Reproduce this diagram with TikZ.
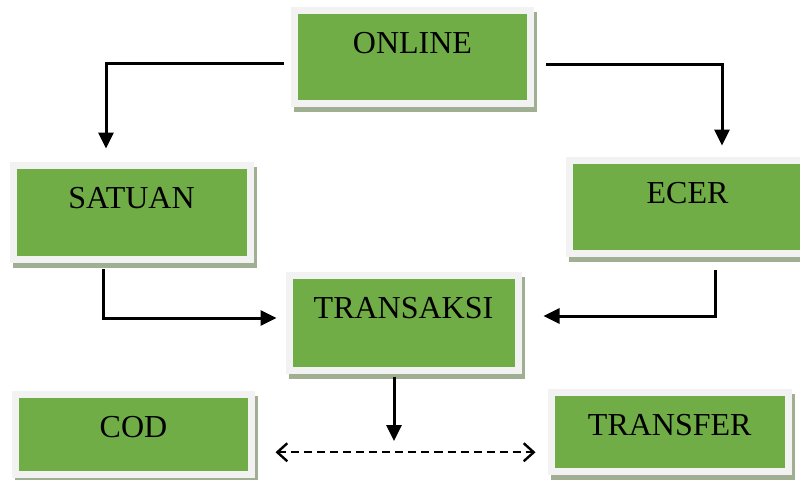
\documentclass[tikz,border=0pt]{standalone}
\usepackage{fontspec}
\setmainfont{Liberation Serif}
\usepackage{tikz}
\usetikzlibrary{arrows.meta, shadows, positioning}
\definecolor{boxgreen}{RGB}{112,173,71}
\definecolor{boxrim}{RGB}{242,242,242}
\definecolor{boxshade}{RGB}{160,174,146}
\tikzstyle{box} = [rectangle, fill=boxgreen, draw=boxrim, line width=7pt, inner sep=0pt,
	text height=43pt, font=\fontsize{32}{36}\selectfont,
	drop shadow={shadow xshift=3pt, shadow yshift=-5pt, fill=boxshade, draw=boxshade, line width=7pt, opacity=1}]
\tikzstyle{line} = [draw, line width=3pt, -{Triangle[length=16pt, width=15pt]}]
\tikzstyle{dline} = [draw, line width=2.4pt, dash pattern=on 8pt off 5pt, {Straight Barb[length=10pt, width=18pt]}-{Straight Barb[length=10pt, width=18pt]}]

\begin{document}
\begin{tikzpicture}[x=1pt, y=-1pt]
			\useasboundingbox (0,0) rectangle (800,479);
			\node [box, minimum width=236pt, text depth=50.5pt] (online) at (412.5, 57) {ONLINE};
			\node [box, minimum width=237pt, text depth=50.5pt] (satuan) at (131.5, 212.25) {SATUAN};
			\node [box, minimum width=237pt, text depth=50.5pt] (ecer) at (687.5, 206.75) {ECER};
			\node [box, minimum width=229pt, text depth=52pt] (transaksi) at (403.5, 323) {TRANSAKSI};
			\node [box, minimum width=236pt, text depth=37.5pt] (cod) at (133.5, 434.25) {COD};
			\node [box, minimum width=237.5pt, text depth=36pt] (transfer) at (669.75, 431.5) {TRANSFER};
			\coordinate (pay) at (394, 441);
			
			\path [line] ([xshift=-7.5pt, yshift=-6pt]online.west) -| ([xshift=-25.5pt, yshift=13.5pt]satuan.north);
			\path [line] ([xshift=12pt, yshift=-7pt]online.east) -| ([xshift=34.5pt, yshift=11pt]ecer.north);
			\path [line] ([xshift=-28.5pt, yshift=-6pt]satuan.south) |- ([xshift=-9pt, yshift=5pt]transaksi.west);
			\path [line] ([xshift=27.5pt, yshift=-12.5pt]ecer.south) |- ([xshift=22pt, yshift=7pt]transaksi.east);
			\path [line] ([xshift=-9.5pt, yshift=-2.5pt]transaksi.south) -- (pay);
			\path [dline] ([xshift=20.5pt, yshift=-18pt]cod.east) -- ([xshift=-12pt, yshift=-18pt]cod.east -| transfer.west);
		\end{tikzpicture}
\end{document}
